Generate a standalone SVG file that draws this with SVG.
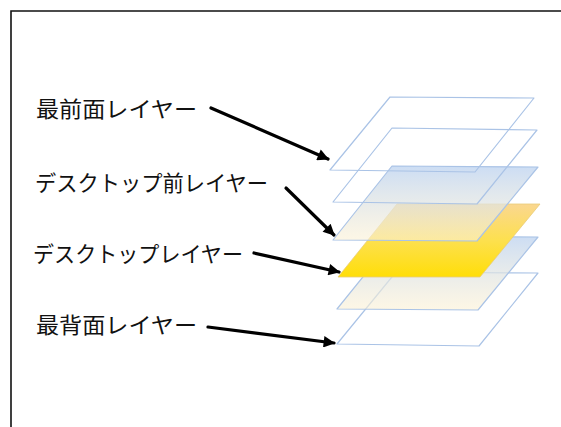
<svg xmlns="http://www.w3.org/2000/svg" width="561" height="427" viewBox="0 0 561 427">
<style>
.lbl{font-family:"Noto Sans CJK JP","Noto Sans CJK SC",sans-serif;font-size:22px;fill:#111}
.edge{stroke:#aac3e6;stroke-width:1.2;stroke-linejoin:round}
.arrow{stroke:#000;stroke-width:3.2;fill:none;stroke-linecap:round}
</style>
<defs>
<linearGradient id="gBlue" x1="0" y1="0" x2="0" y2="1">
<stop offset="0" stop-color="#c3d7f2" stop-opacity="0.85"/>
<stop offset="1" stop-color="#fcf1d4" stop-opacity="0.6"/>
</linearGradient>
<linearGradient id="gYellow" x1="0" y1="0" x2="0" y2="1">
<stop offset="0" stop-color="#fad790"/>
<stop offset="0.5" stop-color="#fde04e"/>
<stop offset="1" stop-color="#ffde08"/>
</linearGradient>
<marker id="ah" viewBox="0 0 10 10" refX="9" refY="5" markerWidth="4.2" markerHeight="3.6" orient="auto" markerUnits="strokeWidth">
<path d="M0,0 L10,5 L0,10 z" fill="#000"/>
</marker>
</defs>
<rect x="0" y="0" width="561" height="427" fill="#fff"/>
<path d="M11,427 V11 H561" fill="none" stroke="#111" stroke-width="1.6"/>

<g id="layer-bottom"><polygon class="edge" points="396,272 538,273 479,346 337,344" fill="#fff" fill-opacity="0.3"/></g>
<g id="layer-back"><polygon class="edge" points="396,236 538,237 478,310 337,309" fill="url(#gBlue)"/></g>
<g id="layer-desktop"><polygon points="397,204 540,204 480,277 338,277" fill="url(#gYellow)" stroke="#e8cc7a" stroke-width="0.8"/></g>
<g id="layer-desktop-front"><polygon class="edge" points="392,166 538,167 477,241 333,240" fill="url(#gBlue)"/></g>
<g id="layer-second"><polygon class="edge" points="392,128 537,130 477,204 333,202" fill="none"/></g>
<g id="layer-top"><polygon class="edge" points="390,97 534,98 475,172 330,170" fill="none"/></g>

<g id="label-front"><text class="lbl" x="36" y="117" textLength="161" lengthAdjust="spacingAndGlyphs">最前面レイヤー</text></g>
<g id="label-desktop-front"><text class="lbl" x="35" y="191" textLength="233" lengthAdjust="spacingAndGlyphs">デスクトップ前レイヤー</text></g>
<g id="label-desktop"><text class="lbl" x="33" y="262" textLength="210" lengthAdjust="spacingAndGlyphs">デスクトップレイヤー</text></g>
<g id="label-back"><text class="lbl" x="36" y="333" textLength="161" lengthAdjust="spacingAndGlyphs">最背面レイヤー</text></g>

<g id="connectors">
<line class="arrow" x1="211" y1="108" x2="328" y2="159" marker-end="url(#ah)"/>
<line class="arrow" x1="286" y1="188" x2="334" y2="235" marker-end="url(#ah)"/>
<line class="arrow" x1="254" y1="253" x2="339" y2="272" marker-end="url(#ah)"/>
<line class="arrow" x1="208" y1="327" x2="334" y2="343" marker-end="url(#ah)"/>
</g>
</svg>
